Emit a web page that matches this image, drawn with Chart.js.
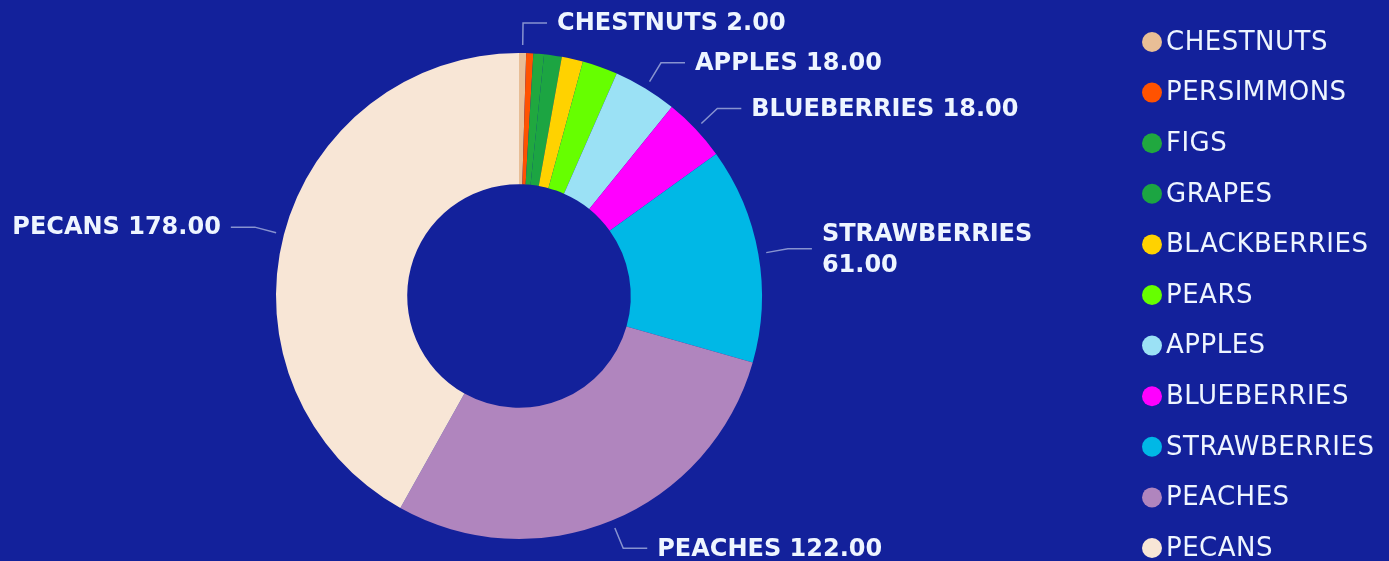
<!DOCTYPE html>
<html>
<head>
<meta charset="utf-8">
<script src="https://cdn.jsdelivr.net/npm/chart.js@4"></script>
<style>
    html, body { margin: 0; padding: 0; background: #13219b; overflow: hidden; }
    canvas { display: block; }
</style>
</head>
<body>
<canvas id="fruit-chart" width="1389" height="561"></canvas>
<script>
// Chart data
const categories = ['CHESTNUTS', 'PERSIMMONS', 'FIGS', 'GRAPES', 'BLACKBERRIES', 'PEARS',
    'APPLES', 'BLUEBERRIES', 'STRAWBERRIES', 'PEACHES', 'PECANS'];
const values = [2, 2, 3, 5, 6, 10, 18, 18, 61, 122, 178];
const sliceColors = ['#e8be96', '#ff5200', '#20a83f', '#1ca542', '#ffd200', '#66ff00',
    '#9be1f5', '#ff00ff', '#00b8e6', '#b085be', '#f8e6d6'];
// Slices that get an outside label
const calloutLabels = ['CHESTNUTS', 'APPLES', 'BLUEBERRIES', 'STRAWBERRIES', 'PEACHES', 'PECANS'];

const TEXT_COLOR = '#eef5ff';
const LINE_COLOR = 'rgba(175, 185, 225, 0.75)';

// Leader lines + value labels outside the ring
const calloutPlugin = {
    id: 'callouts',
    afterDatasetsDraw(chart) {
        const ctx = chart.ctx;
        const arcs = chart.getDatasetMeta(0).data;
        ctx.save();
        ctx.font = 'bold 24px "DejaVu Sans"';
        ctx.textBaseline = 'middle';

        arcs.forEach((arc, i) => {
            const name = chart.data.labels[i];
            if (!calloutLabels.includes(name)) return;

            const mid = (arc.startAngle + arc.endAngle) / 2;
            const cos = Math.cos(mid);
            const sin = Math.sin(mid);
            const r0 = arc.outerRadius + 8;
            const r1 = arc.outerRadius + 30;
            const x0 = arc.x + cos * r0, y0 = arc.y + sin * r0;
            const x1 = arc.x + cos * r1, y1 = arc.y + sin * r1;
            const dir = cos >= -0.01 ? 1 : -1;
            const x2 = x1 + dir * 24;

            ctx.strokeStyle = LINE_COLOR;
            ctx.lineWidth = 1.5;
            ctx.beginPath();
            ctx.moveTo(x0, y0);
            ctx.lineTo(x1, y1);
            ctx.lineTo(x2, y1);
            ctx.stroke();

            const valueText = chart.data.datasets[0].data[i].toFixed(2);
            const full = `${name} ${valueText}`;
            const tx = x2 + dir * 10;
            let lines = [full];
            if (dir > 0 && tx + ctx.measureText(full).width > 1070) {
                lines = [name, valueText];
            }
            ctx.fillStyle = TEXT_COLOR;
            ctx.textAlign = dir > 0 ? 'left' : 'right';
            const lh = 31;
            lines.forEach((line, k) => {
                ctx.fillText(line, tx, y1 + 1 + (k - (lines.length - 1) / 2) * lh);
            });
        });
        ctx.restore();
    }
};

// Legend column on the right
const sideLegendPlugin = {
    id: 'sideLegend',
    afterDraw(chart) {
        const ctx = chart.ctx;
        const colors = chart.data.datasets[0].backgroundColor;
        ctx.save();
        ctx.font = '26px "DejaVu Sans"';
        ctx.letterSpacing = '0.5px';
        ctx.textBaseline = 'middle';
        ctx.textAlign = 'left';
        chart.data.labels.forEach((name, i) => {
            const y = 42 + i * 50.6;
            ctx.fillStyle = colors[i];
            ctx.beginPath();
            ctx.arc(1152, y, 10, 0, Math.PI * 2);
            ctx.fill();
            ctx.fillStyle = TEXT_COLOR;
            ctx.fillText(name, 1166, y + 1);
        });
        ctx.restore();
    }
};

document.addEventListener('DOMContentLoaded', () => {
    const ctx = document.getElementById('fruit-chart').getContext('2d');
    new Chart(ctx, {
        type: 'doughnut',
        data: {
            labels: categories,
            datasets: [{
                data: values,
                backgroundColor: sliceColors,
                borderWidth: 0
            }]
        },
        options: {
            responsive: false,
            animation: false,
            devicePixelRatio: 1,
            cutout: '46%',
            layout: {
                padding: { left: 276, right: 627, top: 53, bottom: 22 }
            },
            plugins: {
                legend: { display: false },
                tooltip: { enabled: false }
            }
        },
        plugins: [calloutPlugin, sideLegendPlugin]
    });
});
</script>
</body>
</html>
